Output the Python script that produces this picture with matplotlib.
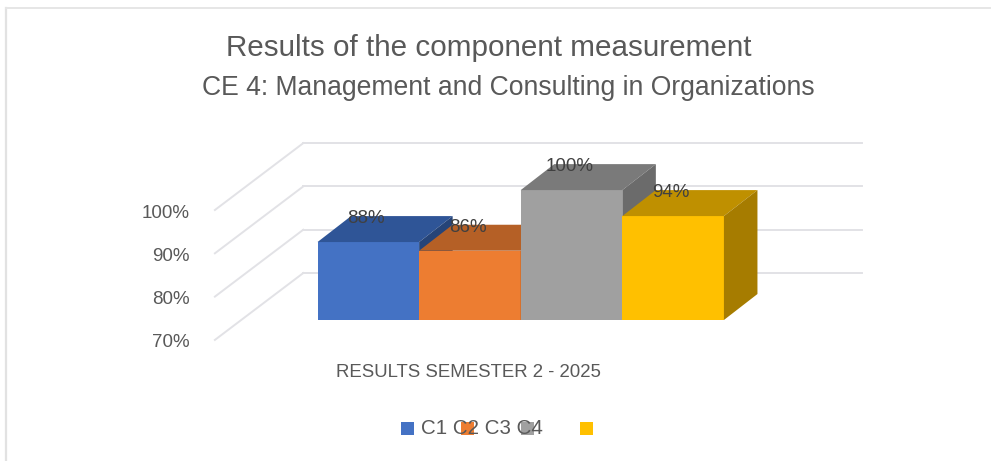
import matplotlib
matplotlib.use('Agg')
import matplotlib.pyplot as plt
from matplotlib.patches import Polygon, Rectangle

plt.rcParams['font.family'] = ['Liberation Sans', 'DejaVu Sans']

# Data
categories = ['C1', 'C2', 'C3', 'C4']
values = [88, 86, 100, 94]
value_labels = ['88%', '86%', '100%', '94%']
y_ticks = [70, 80, 90, 100]
y_tick_labels = ['70%', '80%', '90%', '100%']
x_label = 'RESULTS SEMESTER 2 - 2025'
title = 'Results of the component measurement'
subtitle = 'CE 4: Management and Consulting in Organizations'

front_colors = ['#4472C4', '#ED7D31', '#A0A0A0', '#FFC000']
top_colors = ['#2F5597', '#B56026', '#7A7A7A', '#BF9000']
side_colors = ['#264478', '#9E5424', '#6B6B6B', '#A67C00']

BASE = 70
DEPTH_X = 0.33
DEPTH_Y = 6.0
WALL_LEFT = -1.01
WALL_BACK = -0.14
WALL_DROP = -4.6
WALL_RISE = 10.85
GRID_RIGHT = 5.36
TEXT_GREY = '#595959'


def draw_frame(fig):
    fig.add_artist(plt.Line2D([6.5 / 995, 6.5 / 995], [0, 1 - 8 / 461], color='#e2e2e2', lw=1.6))
    fig.add_artist(plt.Line2D([6 / 995, 990 / 995], [1 - 8 / 461, 1 - 8 / 461], color='#e6e6e6', lw=1.4))


def draw_grid(ax):
    for tick, label in zip(y_ticks, y_tick_labels):
        ax.plot([WALL_LEFT, WALL_BACK], [tick + WALL_DROP, tick + WALL_RISE], color='#e2e2e6', lw=1.4, zorder=1)
        ax.plot([WALL_BACK, GRID_RIGHT], [tick + WALL_RISE, tick + WALL_RISE], color='#e2e2e6', lw=1.4, zorder=1)
        ax.text(WALL_LEFT - 0.25, tick + WALL_DROP - 0.7, label, ha='right', va='center', fontsize=13.5, color=TEXT_GREY)


def draw_bars(ax):
    # left to right so each bar covers the side face of the one before
    for i, v in enumerate(values):
        x0, x1 = i, i + 1
        ax.add_patch(Polygon([(x0, BASE), (x1, BASE), (x1, v), (x0, v)], color=front_colors[i], lw=0, zorder=2))
        ax.add_patch(Polygon([(x0, v), (x1, v), (x1 + DEPTH_X, v + DEPTH_Y), (x0 + DEPTH_X, v + DEPTH_Y)],
                             color=top_colors[i], lw=0, zorder=2))
        ax.add_patch(Polygon([(x1, BASE), (x1 + DEPTH_X, BASE + DEPTH_Y), (x1 + DEPTH_X, v + DEPTH_Y), (x1, v)],
                             color=side_colors[i], lw=0, zorder=2))
    for i, v in enumerate(values):
        ax.text(i + 0.48, v + DEPTH_Y - 0.6, value_labels[i], ha='center', va='center', fontsize=13.5,
                color='#404040', zorder=5)


def draw_legend(fig):
    marker_px = [401, 461, 521, 580]
    for px, color in zip(marker_px, front_colors):
        fig.add_artist(Rectangle((px / 995, 1 - 434.5 / 461), 13 / 995, 13 / 461, color=color, lw=0,
                                 transform=fig.transFigure, zorder=1))
    fig.text(421 / 995, 1 - 428 / 461, ' '.join(categories), ha='left', va='center', fontsize=14.8,
             color=TEXT_GREY, zorder=3)


def main():
    fig = plt.figure(figsize=(9.95, 4.61), dpi=100)
    ax = fig.add_axes([0, 0, 1, 1])
    # one bar is about 101.6 px wide, one percent about 4.33 px tall
    ax.set_xlim(-3.125, 6.668)
    ax.set_ylim(37.44, 143.9)
    ax.axis('off')

    draw_frame(fig)
    draw_grid(ax)
    draw_bars(ax)

    fig.text(488.5 / 995, 1 - 48 / 461, title, ha='center', va='center', fontsize=21.3, color=TEXT_GREY)
    fig.text(508.5 / 995, 1 - 88 / 461, subtitle, ha='center', va='center', fontsize=19.1, color=TEXT_GREY)
    fig.text(468.5 / 995, 1 - 372 / 461, x_label, ha='center', va='center', fontsize=13.4, color=TEXT_GREY)
    draw_legend(fig)

    fig.savefig('out.png', dpi=100)


if __name__ == '__main__':
    main()
